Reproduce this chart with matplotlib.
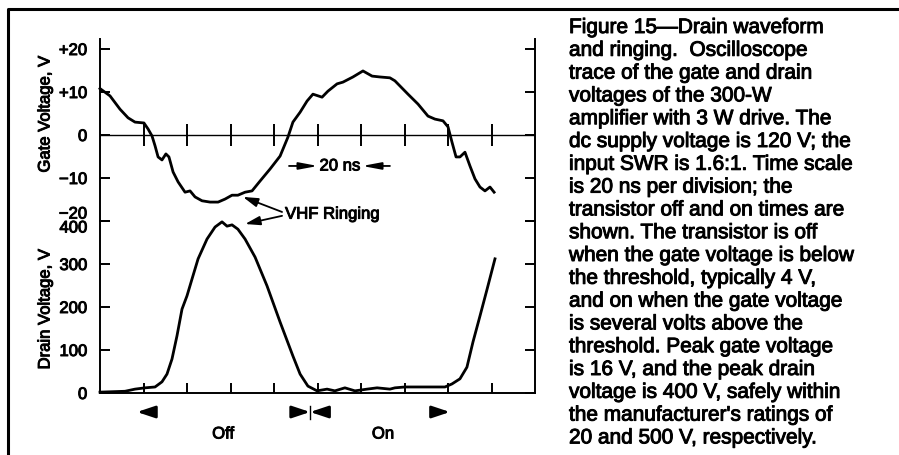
import matplotlib
matplotlib.use('Agg')
import matplotlib.pyplot as plt
import matplotlib.patheffects as pe
from matplotlib.lines import Line2D
from matplotlib.text import Text

plt.rcParams['font.family'] = ['Liberation Sans', 'DejaVu Sans']

# ---------------- data ----------------
gate_t = [0.0, 0.8, 4.6, 9.2, 12.9, 16.1, 20.2, 22.1, 23.9, 25.3, 26.7, 28.5, 30.3,
          31.7, 33.6, 35.9, 39.1, 41.4, 43.7, 46.9, 50.6, 54.3, 57.5, 60.7, 63.4,
          66.7, 69.9, 73.6, 78.2, 82.8, 86.4, 88.7, 92.0, 95.2, 97.9, 102.1, 104.8,
          109.0, 111.7, 116.3, 120.9, 125.1, 128.7, 133.3, 135.6, 141.6, 146.2,
          150.8, 154.0, 157.7, 160.0, 161.8, 163.7, 165.5, 167.8, 170.1, 172.4,
          174.7, 177.0, 179.3, 181.2]
gate_v = [10.8, 10.5, 9.1, 6.0, 4.0, 3.0, 2.8, 1.4, -0.2, -2.5, -5.1, -5.8, -4.4,
          -5.1, -8.6, -10.9, -13.3, -13.0, -14.4, -15.3, -15.6, -15.6, -14.9, -14.0,
          -14.0, -13.3, -13.0, -10.7, -7.9, -4.9, -0.5, 3.0, 5.3, 7.9, 9.5, 8.8,
          10.2, 11.9, 12.3, 13.5, 14.9, 13.7, 13.5, 13.3, 12.6, 9.5, 7.2, 4.4, 3.7,
          3.3, 1.9, -1.6, -5.1, -5.1, -4.0, -7.2, -10.2, -12.1, -13.0, -12.1, -13.3]

drain_t = [0.0, 11.5, 16.1, 20.7, 25.3, 28.5, 30.8, 33.1, 35.4, 37.7, 40.0, 42.3,
           45.1, 49.2, 52.9, 56.1, 58.4, 60.7, 63.4, 66.7, 71.3, 76.8, 82.8, 88.7,
           92.0, 95.6, 99.8, 104.4, 108.0, 112.6, 117.2, 122.8, 127.4, 133.3, 135.6,
           140.2, 158.6, 161.8, 165.5, 168.7, 171.5, 174.7, 178.0, 181.6]
drain_v = [2, 4, 9, 12, 14, 26, 44, 79, 133, 195, 226, 265, 312, 358, 386, 398,
           388, 391, 381, 358, 316, 249, 165, 86, 44, 16, 5, 9, 5, 12, 5, 9, 12,
           9, 12, 14, 14, 21, 33, 60, 119, 179, 242, 312]

time_ticks = [20, 40, 60, 80, 100, 120, 140, 160, 180]
gate_ticks = [20, 10, 0, -10, -20]
gate_tick_labels = ['+20', '+10', '0', '\u221210', '']
drain_ticks = [0, 100, 200, 300, 400]
drain_tick_labels = ['0', '100', '200', '300', '']

caption_lines = [
    "Figure 15\u2014Drain waveform",
    "and ringing.  Oscilloscope",
    "trace of the gate and drain",
    "voltages of the 300-W",
    "amplifier with 3 W drive. The",
    "dc supply voltage is 120 V; the",
    "input SWR is 1.6:1. Time scale",
    "is 20 ns per division; the",
    "transistor off and on times are",
    "shown. The transistor is off",
    "when the gate voltage is below",
    "the threshold, typically 4 V,",
    "and on when the gate voltage",
    "is several volts above the",
    "threshold. Peak gate voltage",
    "is 16 V, and the peak drain",
    "voltage is 400 V, safely within",
    "the manufacturer's ratings of",
    "20 and 500 V, respectively.",
]

# ---------------- layout ----------------
W, H = 899, 456
fig = plt.figure(figsize=(W / 100, H / 100), dpi=100)
fig.patch.set_facecolor('white')


def fx(px):
    return px / W


def fy(py):
    return 1 - py / H


L, R = 100, 535
ax_g = fig.add_axes([fx(L), fy(222), (R - L) / W, (222 - 40) / H])
ax_d = fig.add_axes([fx(L), fy(394), (R - L) / W, (394 - 222) / H])

FS = 12
LW_SP = 1.4
TL = 7.2

for ax in (ax_g, ax_d):
    ax.set_xlim(0, 200)
    ax.patch.set_alpha(0)
    ax.spines['top'].set_visible(False)
    for s in ('left', 'right', 'bottom'):
        ax.spines[s].set_linewidth(LW_SP)
    ax.tick_params(axis='y', which='both', direction='in', length=TL, width=LW_SP,
                   left=True, right=True, labelleft=True, labelright=False,
                   labelsize=FS, pad=9.2)

ax_g.set_ylim(-20, 22.33)
ax_d.set_ylim(0, 400)

ax_g.spines['bottom'].set_visible(False)
ax_g.set_xticks([])
ax_g.set_yticks(gate_ticks)
ax_g.set_yticklabels(gate_tick_labels)

ax_d.set_xticks(time_ticks)
ax_d.set_xticklabels([])
ax_d.tick_params(axis='x', direction='in', length=TL, width=LW_SP)
ax_d.set_yticks(drain_ticks)
ax_d.set_yticklabels(drain_tick_labels)

# overlapping -20 / 400 labels
ax_g.annotate('\u221220', xy=(0, -20), xycoords=('axes fraction', 'data'),
              xytext=(-9.2, 5), textcoords='offset points', ha='right', va='center',
              fontsize=FS)
ax_d.annotate('400', xy=(0, 400), xycoords=('axes fraction', 'data'),
              xytext=(-9.2, -5), textcoords='offset points', ha='right', va='center',
              fontsize=FS)

# gate zero line with division ticks
ax_g.axhline(0, color='black', lw=1.0)
ax_g.vlines(time_ticks, -2.6, 2.6, color='black', lw=LW_SP)

# curves
ax_g.plot(gate_t, gate_v, color='black', lw=2.0, solid_joinstyle='round', clip_on=False)
ax_d.plot(drain_t, drain_v, color='black', lw=2.0, solid_joinstyle='round', clip_on=False)

# axis titles
fig.text(fx(45), fy(115), 'Gate Voltage, V', rotation=90, ha='center', va='center',
         fontsize=FS)
fig.text(fx(45), fy(310), 'Drain Voltage, V', rotation=90, ha='center', va='center',
         fontsize=FS)

# VHF ringing annotation
arrow_small = dict(arrowstyle='-|>,head_length=0.6,head_width=0.18', color='black',
                   lw=1.3, mutation_scale=15, shrinkA=0, shrinkB=0)
ax_g.annotate('', xy=(65.7, -14.4), xytext=(83.7, -17.9), arrowprops=arrow_small,
              annotation_clip=False)
ax_g.annotate('', xy=(66.7, 393), xycoords=ax_d.transData, xytext=(83.7, -18.8),
              textcoords=ax_g.transData, arrowprops=arrow_small, annotation_clip=False)
ax_g.text(85.1, -18.4, 'VHF Ringing', ha='left', va='center', fontsize=FS)

# 20 ns marker
arrow_long = dict(arrowstyle='-|>,head_length=0.75,head_width=0.14', color='black',
                  lw=1.3, mutation_scale=15, shrinkA=0, shrinkB=0)
ax_g.annotate('', xy=(100.2, -7.2), xytext=(86.9, -7.2), arrowprops=arrow_long)
ax_g.annotate('', xy=(120.5, -7.2), xytext=(133.3, -7.2), arrowprops=arrow_long)
ax_g.text(110.3, -7.2, '20 ns', ha='center', va='center', fontsize=FS)

# Off / On markers
arrow_big = dict(arrowstyle='-|>,head_length=0.72,head_width=0.24', color='black',
                 lw=2.0, mutation_scale=15, shrinkA=0, shrinkB=0)
yo = -44.2
ax_d.annotate('', xy=(17.0, yo), xytext=(24.4, yo), arrowprops=arrow_big,
              annotation_clip=False)
ax_d.annotate('', xy=(96.6, yo), xytext=(89.7, yo), arrowprops=arrow_big,
              annotation_clip=False)
ax_d.annotate('', xy=(96.6, yo), xytext=(103.5, yo), arrowprops=arrow_big,
              annotation_clip=False)
ax_d.annotate('', xy=(160.9, yo), xytext=(153.1, yo), arrowprops=arrow_big,
              annotation_clip=False)
ax_d.plot([96.6, 96.6], [-30, -61], color='black', lw=1.0, clip_on=False)
ax_d.text(56.6, -95.3, 'Off', ha='center', va='center', fontsize=FS)
ax_d.text(130.1, -95.3, 'On', ha='center', va='center', fontsize=FS)

# outer frame (top and left)
fig.add_artist(Line2D([fx(8), fx(8), 1.0], [0.0, fy(10), fy(10)],
                      transform=fig.transFigure, color='black', lw=2.2))

# caption
for i, line in enumerate(caption_lines):
    fig.text(fx(569), fy(34 + i * 22.8), line, ha='left', va='baseline', fontsize=15)

# heavier, scan-like text strokes
fig.canvas.draw()
for t in fig.findobj(Text):
    if t.get_text():
        t.set_path_effects([pe.withStroke(linewidth=0.7, foreground='black')])

fig.savefig('out.png', dpi=100)
